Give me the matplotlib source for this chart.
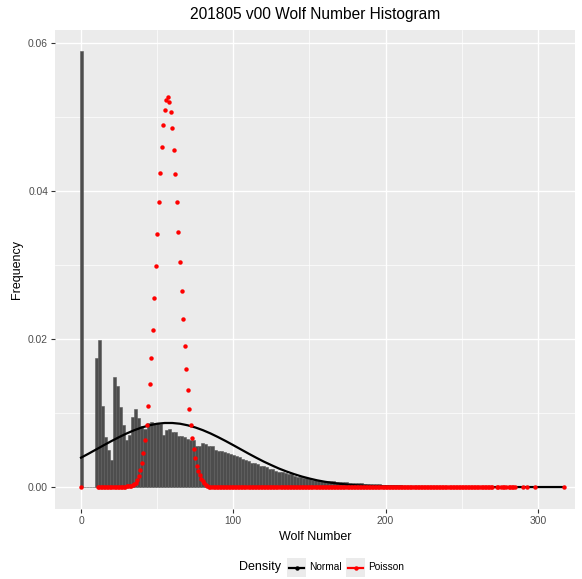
import matplotlib.pyplot as plt
from matplotlib.patches import Rectangle
from matplotlib.lines import Line2D
import numpy as np

# Histogram (binwidth 2, centres 0, 2, ..., 316) - density values
bin_width = 2
bin_centers = np.arange(0, 318, bin_width)
hist_freq = [
    0.0590, 0, 0, 0, 0, 0.0174, 0.0199, 0.0110, 0.0068, 0.0050,
    0.0036, 0.0149, 0.0137, 0.0108, 0.0084, 0.0064, 0.0070, 0.0095, 0.0105, 0.0093,
    0.0082, 0.0079, 0.0086, 0.0088, 0.0087, 0.0086, 0.0085, 0.0071, 0.0077, 0.0078,
    0.0075, 0.0074, 0.0069, 0.0069, 0.0068, 0.0065, 0.0064, 0.0064, 0.0055, 0.0056,
    0.0060, 0.0058, 0.0055, 0.0056, 0.0050, 0.0049, 0.0049, 0.0048, 0.0046, 0.0044,
    0.0043, 0.0042, 0.0040, 0.0038, 0.0036, 0.0035, 0.0033, 0.0032, 0.0031, 0.0029,
    0.0028, 0.0027, 0.0025, 0.0024, 0.0022, 0.0021, 0.0020, 0.0019, 0.0018, 0.0017,
    0.0015, 0.0014, 0.0013, 0.0012, 0.0012, 0.0011, 0.0010, 0.00096, 0.00092, 0.00088,
    0.00085, 0.00082, 0.00079, 0.00076, 0.00073, 0.00070, 0.00067, 0.00064, 0.00061, 0.00058,
    0.00055, 0.00052, 0.00049, 0.00046, 0.00044, 0.00042, 0.00040, 0.00038, 0.00036, 0.00034,
    0.00032, 0.00030, 0.00028, 0.00026, 0.00024, 0.00022, 0.00020, 0.00018, 0.00017, 0.00015,
    0.00014, 0.00012, 0.00011, 0.00010, 0.00009, 0.00008, 0.00007, 0.00007, 0.00006, 0.00005,
    0.00005, 0.00004, 0.00004, 0.00003, 0.00003, 0.00003, 0.00002, 0.00002, 0.00002, 0.00002,
    0.00001, 0.00001, 0.00001, 0.00001, 0.00001, 0.00001, 0, 0, 0, 0,
    0.00001, 0, 0, 0, 0, 0.00001, 0, 0, 0.00001, 0,
    0, 0, 0, 0, 0, 0, 0, 0, 0.00001,
]

# Normal density curve
normal_x = [0, 5, 10, 15, 20, 25, 30, 35, 40, 45, 50, 55, 60, 65, 70, 75, 80, 85, 90, 95,
            100, 105, 110, 115, 120, 125, 130, 135, 140, 145, 150, 155, 160, 165, 170, 175,
            180, 190, 200, 210, 220, 240, 260, 280, 300, 317]
normal_y = [0.00397, 0.00452, 0.00509, 0.00566, 0.00622, 0.00675, 0.00725, 0.00769, 0.00806, 0.00835,
            0.00856, 0.00866, 0.00866, 0.00856, 0.00835, 0.00806, 0.00769, 0.00725, 0.00675, 0.00622,
            0.00566, 0.00509, 0.00452, 0.00397, 0.00344, 0.00296, 0.00250, 0.00210, 0.00174, 0.00142,
            0.00115, 0.00091, 0.00072, 0.00056, 0.00044, 0.00033,
            0.00025, 0.00014, 0.00007, 0.00003, 0.00002, 0, 0, 0, 0, 0]

# Poisson density points (peak region)
poisson_peak_x = list(range(30, 84))
poisson_peak_y = [
    0.0001, 0.0001, 0.0002, 0.0002, 0.0003, 0.0004, 0.0006, 0.0010, 0.0015, 0.0023,
    0.0033, 0.0046, 0.0063, 0.0084, 0.0110, 0.0140, 0.0175, 0.0213, 0.0255, 0.0299,
    0.0342, 0.0385, 0.0425, 0.0460, 0.0489, 0.0510, 0.0523, 0.0527, 0.0521, 0.0507,
    0.0485, 0.0456, 0.0423, 0.0385, 0.0345, 0.0304, 0.0265, 0.0227, 0.0191, 0.0159,
    0.0131, 0.0105, 0.0084, 0.0066, 0.0051, 0.0039, 0.0029, 0.0022, 0.0016, 0.0011,
    0.0008, 0.0005, 0.0003, 0.0002,
]
# Poisson points that sit on zero (observed wolf numbers outside the peak)
poisson_zero_x = ([0] + list(range(11, 30)) + list(range(84, 271))
                  + [273, 274, 276, 277, 278, 279, 281, 282, 283, 284, 285, 290, 293, 298, 317])
poisson_zero_y = [0] * len(poisson_zero_x)

plt.rcParams['font.family'] = ['Liberation Sans', 'DejaVu Sans']

W, H = 582, 579
fig = plt.figure(figsize=(W / 100, H / 100), dpi=100)
ax = fig.add_axes([55 / W, 1 - 509 / H, 520 / W, 479 / H])
ax.set_facecolor('#ebebeb')

ax.bar(bin_centers, hist_freq, width=bin_width, color='#4d4d4d', edgecolor='#5c5c5c', linewidth=0.4)
ax.plot(normal_x, normal_y, color='black', linewidth=1.6)
ax.plot(poisson_zero_x, poisson_zero_y, 'o', color='red', markersize=3.2, markeredgewidth=0)
ax.plot(poisson_peak_x, poisson_peak_y, 'o', color='red', markersize=3.2, markeredgewidth=0)

ax.set_xlim(-17.1, 324.4)
ax.set_ylim(-0.00297, 0.0618)
ax.set_xticks([0, 100, 200, 300])
ax.set_xticks([50, 150, 250], minor=True)
ax.set_yticks([0, 0.02, 0.04, 0.06])
ax.set_yticklabels(['0.00', '0.02', '0.04', '0.06'])
ax.set_yticks([0.01, 0.03, 0.05], minor=True)
ax.grid(which='major', color='white', linewidth=1.0)
ax.grid(which='minor', color='white', linewidth=0.5)
ax.set_axisbelow(True)
for s in ax.spines.values():
    s.set_visible(False)
ax.tick_params(which='major', length=3, width=0.8, color='#333333',
               labelsize=7.4, labelcolor='#4d4d4d', pad=2)
ax.tick_params(which='minor', length=0)

ax.set_title('201805 v00 Wolf Number Histogram', fontsize=11.2, pad=8)
ax.set_xlabel('Wolf Number', fontsize=9, labelpad=4)
ax.set_ylabel('Frequency', fontsize=9, labelpad=4)

# legend at the bottom, drawn by hand (ggplot style)
def fx(px):
    return px / W

def fy(py):
    return 1 - py / H

fig.text(fx(239), fy(567), 'Density', fontsize=9, va='center', ha='left')
for x0, col, lab in [(287, 'black', 'Normal'), (346, 'red', 'Poisson')]:
    fig.add_artist(Rectangle((fx(x0), fy(577)), 19 / W, 19 / H, transform=fig.transFigure,
                             facecolor='#ebebeb', edgecolor='none'))
    fig.add_artist(Line2D([fx(x0 + 2), fx(x0 + 17)], [fy(568), fy(568)], transform=fig.transFigure,
                          color=col, linewidth=1.6))
    fig.add_artist(Line2D([fx(x0 + 9.5)], [fy(568)], transform=fig.transFigure,
                          color=col, marker='o', markersize=3.2, markeredgewidth=0, linestyle='none'))
    fig.text(fx(x0 + 22), fy(567), lab, fontsize=7.3, va='center', ha='left')

fig.savefig('out.png', dpi=100)
